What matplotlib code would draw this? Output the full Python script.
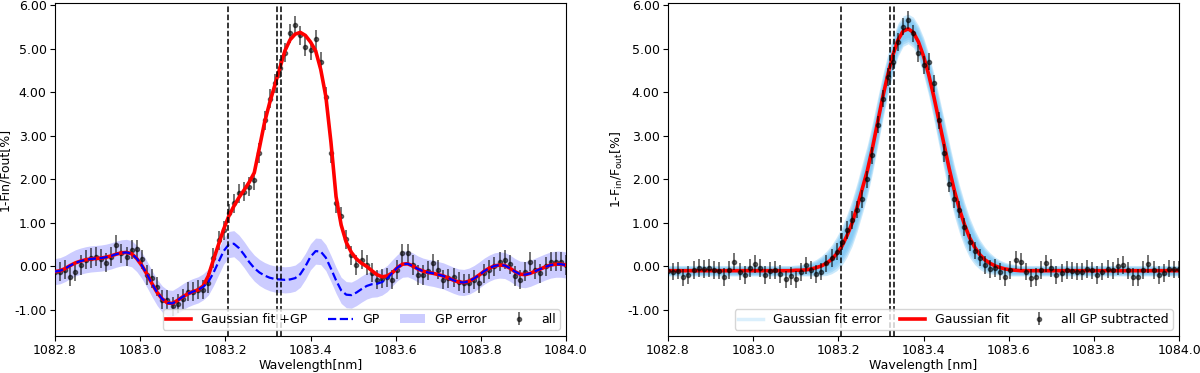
import matplotlib
matplotlib.use("Agg")
import matplotlib.pyplot as plt
from matplotlib.lines import Line2D
from matplotlib.ticker import FormatStrFormatter
import numpy as np

# wavelength grid of the binned spectrum [nm]
wavelength = [
    1082.800, 1082.812, 1082.824, 1082.836, 1082.848, 1082.860, 1082.872, 1082.884, 1082.896, 1082.908,
    1082.920, 1082.932, 1082.944, 1082.956, 1082.968, 1082.980, 1082.992, 1083.004, 1083.016, 1083.028,
    1083.040, 1083.052, 1083.064, 1083.076, 1083.088, 1083.100, 1083.112, 1083.124, 1083.136, 1083.148,
    1083.160, 1083.172, 1083.184, 1083.196, 1083.208, 1083.220, 1083.232, 1083.244, 1083.256, 1083.268,
    1083.280, 1083.292, 1083.304, 1083.316, 1083.328, 1083.340, 1083.352, 1083.364, 1083.376, 1083.388,
    1083.400, 1083.412, 1083.424, 1083.436, 1083.448, 1083.460, 1083.472, 1083.484, 1083.496, 1083.508,
    1083.520, 1083.532, 1083.544, 1083.556, 1083.568, 1083.580, 1083.592, 1083.604, 1083.616, 1083.628,
    1083.640, 1083.652, 1083.664, 1083.676, 1083.688, 1083.700, 1083.712, 1083.724, 1083.736, 1083.748,
    1083.760, 1083.772, 1083.784, 1083.796, 1083.808, 1083.820, 1083.832, 1083.844, 1083.856, 1083.868,
    1083.880, 1083.892, 1083.904, 1083.916, 1083.928, 1083.940, 1083.952, 1083.964, 1083.976, 1083.988,
    1084.000,
]

# left panel: observed absorption, GP model and Gaussian fit + GP
obs_all = [
    -0.12, -0.12, -0.08, -0.24, -0.12, 0.03, 0.15, 0.19, 0.22, 0.18,
    0.08, 0.22, 0.49, 0.30, 0.22, 0.38, 0.39, 0.16, -0.20, -0.27,
    -0.47, -0.77, -0.77, -0.92, -0.86, -0.75, -0.58, -0.58, -0.54, -0.54,
    -0.38, 0.19, 0.60, 0.83, 1.22, 1.45, 1.68, 1.71, 1.83, 1.98,
    2.60, 3.35, 3.85, 4.20, 4.55, 4.90, 5.35, 5.53, 5.30, 5.04,
    4.96, 5.21, 4.70, 3.89, 2.60, 1.45, 1.15, 0.62, 0.25, 0.03,
    0.15, 0.03, -0.15, -0.31, -0.28, -0.25, -0.31, -0.08, 0.30, 0.30,
    0.03, -0.20, -0.20, -0.10, 0.07, -0.08, -0.31, -0.27, -0.25, -0.35,
    -0.39, -0.39, -0.31, -0.39, -0.16, -0.08, 0.00, 0.11, 0.15, 0.05,
    -0.22, -0.31, -0.12, 0.11, -0.08, -0.16, 0.00, 0.11, 0.11, 0.11,
    0.03,
]
gp_model = [
    -0.12, -0.10, -0.05, 0.02, 0.08, 0.12, 0.15, 0.17, 0.18, 0.19,
    0.21, 0.24, 0.28, 0.31, 0.32, 0.29, 0.18, 0.02, -0.18, -0.40,
    -0.60, -0.75, -0.84, -0.85, -0.78, -0.70, -0.63, -0.58, -0.54, -0.47,
    -0.36, -0.15, 0.10, 0.35, 0.50, 0.52, 0.42, 0.27, 0.10, -0.04,
    -0.14, -0.21, -0.26, -0.29, -0.30, -0.31, -0.30, -0.27, -0.18, 0.00,
    0.22, 0.35, 0.34, 0.20, -0.05, -0.32, -0.55, -0.65, -0.66, -0.60,
    -0.52, -0.45, -0.41, -0.40, -0.36, -0.28, -0.15, -0.03, 0.05, 0.06,
    0.01, -0.06, -0.11, -0.14, -0.16, -0.19, -0.22, -0.27, -0.32, -0.36,
    -0.37, -0.34, -0.28, -0.20, -0.11, -0.04, 0.01, 0.03, 0.02, -0.04,
    -0.12, -0.18, -0.19, -0.16, -0.11, -0.06, -0.01, 0.03, 0.05, 0.05,
    0.03,
]
fit_plus_gp = [
    -0.12, -0.10, -0.05, 0.02, 0.08, 0.12, 0.15, 0.17, 0.18, 0.19,
    0.21, 0.24, 0.28, 0.31, 0.32, 0.29, 0.18, 0.02, -0.18, -0.40,
    -0.60, -0.75, -0.84, -0.85, -0.78, -0.70, -0.63, -0.58, -0.54, -0.45,
    -0.22, 0.15, 0.50, 0.85, 1.15, 1.38, 1.58, 1.75, 1.93, 2.15,
    2.72, 3.30, 3.75, 4.15, 4.55, 4.95, 5.20, 5.33, 5.37, 5.30,
    5.15, 4.95, 4.52, 3.90, 2.85, 1.60, 0.95, 0.55, 0.32, 0.17,
    0.07, 0.00, -0.10, -0.19, -0.24, -0.22, -0.15, -0.03, 0.05, 0.06,
    0.01, -0.06, -0.11, -0.14, -0.16, -0.19, -0.22, -0.27, -0.32, -0.36,
    -0.37, -0.34, -0.28, -0.20, -0.11, -0.04, 0.01, 0.03, 0.02, -0.04,
    -0.12, -0.18, -0.19, -0.16, -0.11, -0.06, -0.01, 0.03, 0.05, 0.05,
    0.03,
]
GP_ERR = 0.30
OBS_ERR = 0.22

# right panel: GP-subtracted data and pure Gaussian fit
obs_sub = [
    -0.10, -0.12, -0.10, -0.25, -0.20, -0.08, -0.04, -0.06, -0.04, -0.08,
    -0.10, -0.24, -0.08, 0.11, -0.12, -0.20, -0.04, 0.05, -0.04, -0.20,
    -0.10, -0.08, -0.18, -0.30, -0.22, -0.30, -0.13, 0.02, -0.08, -0.18,
    -0.12, 0.07, 0.19, 0.34, 0.57, 0.83, 1.06, 1.30, 1.55, 2.00,
    2.55, 3.25, 3.85, 4.35, 4.70, 5.15, 5.50, 5.65, 5.35, 4.89,
    4.62, 4.70, 4.20, 3.35, 2.60, 1.90, 1.55, 1.30, 0.90, 0.55,
    0.36, 0.20, 0.03, -0.06, -0.04, -0.12, -0.24, -0.08, 0.15, 0.11,
    -0.12, -0.27, -0.24, -0.08, 0.07, -0.04, -0.20, -0.15, -0.08, -0.10,
    -0.12, -0.12, -0.06, -0.09, -0.20, -0.12, -0.06, -0.09, 0.00, 0.03,
    -0.09, -0.24, -0.25, -0.08, 0.05, -0.08, -0.20, -0.15, -0.05, -0.07,
    -0.07,
]
gauss_fit = [
    -0.10, -0.10, -0.10, -0.10, -0.10, -0.10, -0.10, -0.10, -0.10, -0.10,
    -0.10, -0.10, -0.10, -0.10, -0.10, -0.10, -0.10, -0.10, -0.10, -0.10,
    -0.10, -0.10, -0.10, -0.10, -0.10, -0.09, -0.09, -0.08, -0.06, -0.03,
    0.01, 0.07, 0.16, 0.29, 0.46, 0.70, 0.99, 1.36, 1.78, 2.20,
    2.72, 3.30, 3.88, 4.40, 4.85, 5.20, 5.40, 5.45, 5.37, 5.15,
    4.82, 4.40, 3.90, 3.35, 2.80, 2.25, 1.75, 1.32, 0.96, 0.66,
    0.44, 0.27, 0.15, 0.07, 0.01, -0.03, -0.06, -0.08, -0.09, -0.10,
    -0.10, -0.10, -0.10, -0.10, -0.10, -0.10, -0.10, -0.10, -0.10, -0.10,
    -0.10, -0.10, -0.10, -0.10, -0.10, -0.10, -0.10, -0.10, -0.10, -0.10,
    -0.10, -0.10, -0.10, -0.10, -0.10, -0.10, -0.10, -0.10, -0.10, -0.10,
    -0.10,
]
gauss_fit_err = [
    0.12, 0.12, 0.12, 0.12, 0.12, 0.12, 0.12, 0.12, 0.12, 0.12,
    0.12, 0.12, 0.12, 0.12, 0.12, 0.12, 0.12, 0.12, 0.12, 0.12,
    0.12, 0.12, 0.12, 0.12, 0.12, 0.12, 0.13, 0.14, 0.16, 0.19,
    0.23, 0.28, 0.33, 0.39, 0.44, 0.49, 0.53, 0.56, 0.58, 0.59,
    0.58, 0.56, 0.52, 0.47, 0.42, 0.38, 0.35, 0.34, 0.35, 0.38,
    0.43, 0.48, 0.53, 0.57, 0.59, 0.60, 0.58, 0.55, 0.51, 0.46,
    0.40, 0.34, 0.29, 0.24, 0.20, 0.17, 0.15, 0.14, 0.13, 0.12,
    0.12, 0.12, 0.12, 0.12, 0.12, 0.12, 0.12, 0.12, 0.12, 0.12,
    0.12, 0.12, 0.12, 0.12, 0.12, 0.12, 0.12, 0.12, 0.12, 0.12,
    0.12, 0.12, 0.12, 0.12, 0.12, 0.12, 0.12, 0.12, 0.12, 0.12,
    0.12,
]

# He I triplet line centres [nm]
he_lines = [1083.2057, 1083.3217, 1083.3306]

FS = 9
plt.rcParams["font.size"] = FS

w = np.array(wavelength)

fig = plt.figure(figsize=(12, 3.73), dpi=100)
ax1 = fig.add_axes([0.0458, 0.099, 0.4259, 0.8936])
ax2 = fig.add_axes([0.5567, 0.099, 0.4259, 0.8936])

# ---- left panel ----
gp = np.array(gp_model)
ax1.fill_between(w, gp - GP_ERR, gp + GP_ERR, color="blue", alpha=0.2, lw=0,
                 label="GP error", zorder=1)
ax1.errorbar(w, obs_all, yerr=OBS_ERR, fmt="o", ms=3, color="k", alpha=0.55,
             elinewidth=1.4, capsize=0, label="all", zorder=2)
ax1.plot(w, fit_plus_gp, color="red", lw=2.6, label="Gaussian fit +GP", zorder=3)
ax1.plot(w, gp, color="blue", lw=1.6, ls="--", label="GP", zorder=4)

# ---- right panel ----
gf = np.array(gauss_fit)
ge = np.array(gauss_fit_err)
for k in (1.0, 0.85, 0.7, 0.55):
    ax2.fill_between(w, gf - k * ge, gf + k * ge, color="#6cc0f4", alpha=0.35,
                     lw=0, zorder=1)
ax2.plot(w, gf, color="red", lw=2.6, zorder=3)
ax2.errorbar(w, obs_sub, yerr=0.2, fmt="o", ms=3, color="k", alpha=0.55,
             elinewidth=1.4, capsize=0, zorder=4)

for ax in (ax1, ax2):
    for x in he_lines:
        ax.axvline(x, color="k", ls="--", lw=1.1, zorder=5)
    ax.set_xlim(1082.8, 1084.0)
    ax.set_ylim(-1.6, 6.05)
    ax.set_xticks([1082.8, 1083.0, 1083.2, 1083.4, 1083.6, 1083.8, 1084.0])
    ax.set_yticks([-1, 0, 1, 2, 3, 4, 5, 6])
    ax.xaxis.set_major_formatter(FormatStrFormatter("%.1f"))
    ax.yaxis.set_major_formatter(FormatStrFormatter("%.2f"))
    ax.tick_params(labelsize=FS, pad=2.5)

ax1.set_xlabel("Wavelength[nm]", fontsize=FS, labelpad=1)
ax1.set_ylabel("1-Fin/Fout[%]", fontsize=FS, labelpad=2)
ax2.set_xlabel("Wavelength [nm]", fontsize=FS, labelpad=1)
ax2.set_ylabel("1-F$_{\\rm in}$/F$_{\\rm out}$[%]", fontsize=FS, labelpad=2)

h, l = ax1.get_legend_handles_labels()
order = [l.index(s) for s in ["Gaussian fit +GP", "GP", "GP error", "all"]]
ax1.legend([h[i] for i in order], [l[i] for i in order], loc="lower right",
           ncol=4, fontsize=FS, borderpad=0.3, columnspacing=1.6)

err_handle = ax2.errorbar([], [], yerr=[], fmt="o", ms=3, color="k", alpha=0.55,
                          elinewidth=1.4)
ax2.legend([Line2D([], [], color="#6cc0f4", alpha=0.25, lw=2.5),
            Line2D([], [], color="red", lw=2.6), err_handle],
           ["Gaussian fit error", "Gaussian fit", "all GP subtracted"],
           loc="lower right", ncol=3, fontsize=FS, borderpad=0.3, columnspacing=1.4)

fig.savefig("out.png", dpi=100)
